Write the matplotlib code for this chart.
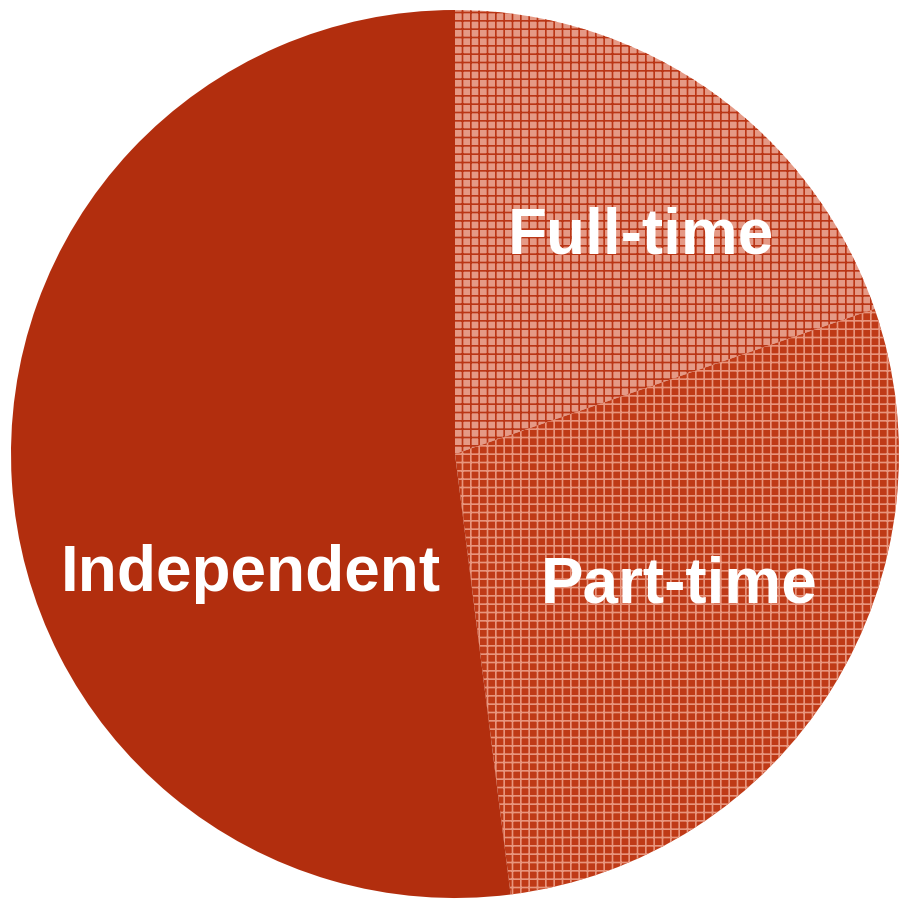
import numpy as np
import matplotlib
matplotlib.use('Agg')
import matplotlib.pyplot as plt

# shares of each group
labels = ['Full-time', 'Part-time', 'Independent']
shares = [19.7, 28.3, 52.0]

face_colors = ['#E59985', '#BF3A17', '#B22E0E']
hatch_colors = ['#BA3616', '#E8957D', '#B22E0E']
hatches = ['++', '++', '']

# where each label baseline sits: angle (deg) and fraction of radius
label_angles = [47.1, -33.5, 213.9]
label_radii = [0.615, 0.605, 0.553]

plt.rcParams['hatch.linewidth'] = 1.2

fig = plt.figure(figsize=(8.99, 9.02), dpi=100)
ax = fig.add_axes([0, 0, 1, 1])

cx, cy, r = 455, 902 - 454, 444

wedges, _ = ax.pie(shares, startangle=90, counterclock=False,
                   center=(cx, cy), radius=r, frame=True,
                   wedgeprops=dict(linewidth=0))
for w, fc, hc, h in zip(wedges, face_colors, hatch_colors, hatches):
    w.set_facecolor(fc)
    if h:
        w.set_hatch(h)
        w.set_edgecolor(hc)
        w.set_linewidth(0)

ax.set_xlim(0, 899)
ax.set_ylim(0, 902)
ax.set_aspect('equal')
ax.axis('off')

for lab, ang, rad in zip(labels, label_angles, label_radii):
    a = np.deg2rad(ang)
    ax.text(cx + rad * r * np.cos(a), cy + rad * r * np.sin(a), lab,
            ha='center', va='baseline', color='white', fontsize=46,
            fontweight='bold', family='Liberation Sans')

fig.savefig('out.png', dpi=100)
